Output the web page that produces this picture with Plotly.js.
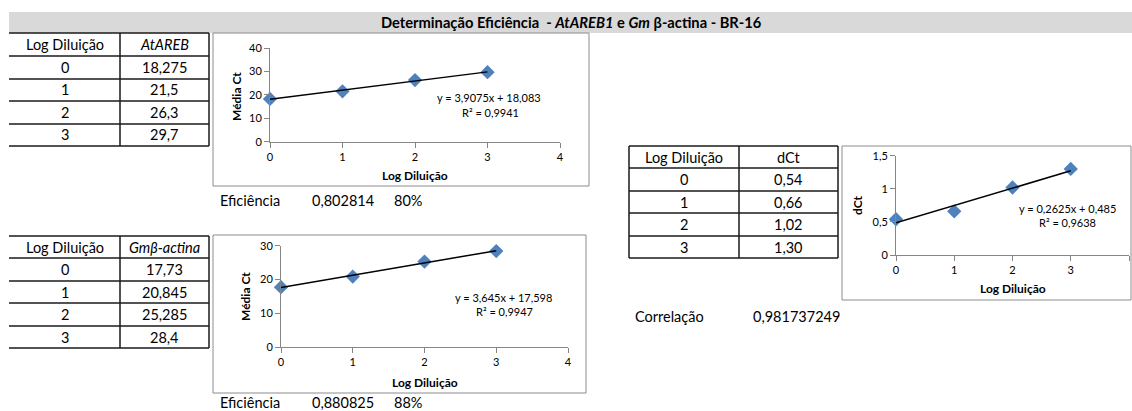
<!DOCTYPE html>
<html><head><meta charset="utf-8">
<script src="https://cdn.plot.ly/plotly-3.0.1.min.js"></script>
<style>html,body{margin:0;padding:0;background:#fff;} #chart{width:1132px;height:411px;}</style>
</head><body><div id="chart"></div>
<script>
// ---- data ----
const logDil = [0, 1, 2, 3];
const atareb = [18.275, 21.5, 26.3, 29.7];
const gmActina = [17.73, 20.845, 25.285, 28.4];
const dCt = [0.54, 0.66, 1.02, 1.30];
const trend1 = [3.9075, 18.083];
const trend2 = [3.645, 17.598];
const trend3 = [0.2625, 0.485];
const r2 = [0.9941, 0.9947, 0.9638];
const eficiencia = [0.802814, 0.880825];
const eficPct = ['80%', '88%'];
const correlacao = 0.981737249;
const headers1 = ['Log Diluição', 'AtAREB'];
const headers2 = ['Log Diluição', 'Gmβ-actina'];
const headers3 = ['Log Diluição', 'dCt'];

// ---- helpers ----
const W = 1132, H = 411;
const px = x => x / W, py = y => 1 - y / H;
const comma = v => String(v).replace('.', ',');
const FONT = 'Lato, "Open Sans", sans-serif';
const shapes = [], annotations = [];

function txt(x, y, text, opt) {
  opt = opt || {};
  annotations.push(Object.assign({
    xref: 'paper', yref: 'paper', x: px(x), y: py(y), text: text, showarrow: false,
    xanchor: 'center', yanchor: 'middle',
    font: {family: FONT, size: 14.5, color: '#000'}
  }, opt));
}
function line(x0, y0, x1, y1, color, w) {
  shapes.push({type: 'line', xref: 'paper', yref: 'paper', x0: px(x0), y0: py(y0), x1: px(x1), y1: py(y1),
    line: {color: color || '#1a1a1a', width: w || 1.5}});
}
function rect(x0, y0, x1, y1, opt) {
  shapes.push(Object.assign({type: 'rect', xref: 'paper', yref: 'paper', x0: px(x0), y0: py(y0), x1: px(x1), y1: py(y1)}, opt));
}
function table(x0, xm, x1, ys, left, headers, italic, values, fmt) {
  ys.forEach(y => line(x0, y, x1, y));
  line(xm, ys[0], xm, ys[ys.length - 1]);
  line(x1, ys[0], x1, ys[ys.length - 1]);
  if (left) line(x0, ys[0], x0, ys[ys.length - 1]);
  const c1 = (x0 + xm) / 2, c2 = (xm + x1) / 2;
  txt(c1, (ys[0] + ys[1]) / 2, headers[0]);
  txt(c2, (ys[0] + ys[1]) / 2, italic ? '<i>' + headers[1] + '</i>' : headers[1]);
  logDil.forEach((d, i) => {
    const yc = (ys[i + 1] + ys[i + 2]) / 2;
    txt(c1, yc, String(d));
    txt(c2, yc, fmt(values[i]));
  });
}

// title band
rect(9, 12, 1132, 33, {fillcolor: '#D9D9D9', line: {width: 0}, layer: 'below'});
txt(571, 22.5, '<b>Determinação Eficiência&nbsp; - <i>AtAREB1</i> e <i>Gm</i> β-actina - BR-16</b>', {font: {family: FONT, size: 14.7, color: '#000'}});

// tables
table(9, 120, 209, [33, 56, 79, 101, 124, 146], false, headers1, true, atareb, comma);
table(9, 120, 209, [236, 258, 281, 303, 326, 348], false, headers2, true, gmActina, comma);
table(629, 739, 838, [146, 168, 191, 213, 236, 258], true, headers3, false, dCt, v => comma(v.toFixed(2)));

// chart boxes
const boxLine = {color: '#8C8C8C', width: 1};
rect(213, 33, 589, 186, {line: boxLine, fillcolor: 'rgba(0,0,0,0)'});
rect(213, 235, 586, 393, {line: boxLine, fillcolor: 'rgba(0,0,0,0)'});
rect(842, 146, 1131, 300, {line: boxLine, fillcolor: 'rgba(0,0,0,0)'});

// axis titles
const tFont = {family: FONT, size: 12, color: '#000'};
txt(236, 97, '<b>Média Ct</b>', {textangle: -90, font: tFont});
txt(415, 175, '<b>Log Diluição</b>', {font: tFont});
txt(245, 297, '<b>Média Ct</b>', {textangle: -90, font: tFont});
txt(425, 382, '<b>Log Diluição</b>', {font: tFont});
txt(858, 205, '<b>dCt</b>', {textangle: -90, font: tFont});
txt(1013, 288, '<b>Log Diluição</b>', {font: tFont});

// equations
const eFont = {family: FONT, size: 11, color: '#000'};
const eq = t => 'y = ' + comma(t[0]) + 'x + ' + comma(t[1]);
txt(489, 98, eq(trend1), {font: eFont});
txt(490, 112, 'R² = ' + comma(r2[0]), {font: eFont});
txt(503, 297, eq(trend2), {font: eFont});
txt(504, 311, 'R² = ' + comma(r2[1]), {font: eFont});
txt(1067, 208, eq(trend3), {font: eFont});
txt(1067, 222, 'R² = ' + comma(r2[2]), {font: eFont});

// eficiência / correlação
[200, 402].forEach((y, i) => {
  txt(218, y, 'Eficiência', {xanchor: 'left'});
  txt(310, y, comma(eficiencia[i]), {xanchor: 'left'});
  txt(392, y, eficPct[i], {xanchor: 'left'});
});
txt(633, 316, 'Correlação', {xanchor: 'left'});
txt(751, 316, comma(correlacao), {xanchor: 'left'});

// ---- traces ----
const mk = {symbol: 'diamond', size: 11, color: '#4F81BD'};
const trendX = [0, 3];
function series(y, t, ax) {
  return [
    {x: logDil, y: y, mode: 'markers', marker: mk, xaxis: 'x' + ax, yaxis: 'y' + ax, cliponaxis: false},
    {x: trendX, y: trendX.map(x => t[0] * x + t[1]), mode: 'lines', line: {color: '#000', width: 1.5},
     xaxis: 'x' + ax, yaxis: 'y' + ax, cliponaxis: false}
  ];
}
const data = [].concat(series(atareb, trend1, ''), series(gmActina, trend2, '2'), series(dCt, trend3, '3'));

const tickFont = {family: FONT, size: 11, color: '#000'};
function xax(x0, x1, yanchor) {
  return {domain: [px(x0), px(x1)], range: [0, 4], dtick: 1, anchor: yanchor, showgrid: false, zeroline: false,
    showline: true, linecolor: '#868686', linewidth: 1, ticks: 'outside', ticklen: 5, tickcolor: '#868686',
    tickfont: tickFont, fixedrange: true};
}
function yax(y0, y1, r, d, xanchor) {
  return {domain: [py(y0), py(y1)], range: r, dtick: d, anchor: xanchor, showgrid: false, zeroline: false,
    showline: true, linecolor: '#868686', linewidth: 1, ticks: 'outside', ticklen: 5, tickcolor: '#868686',
    tickfont: tickFont, fixedrange: true};
}

const layout = {
  width: W, height: H, margin: {l: 0, r: 0, t: 0, b: 0}, paper_bgcolor: '#fff', plot_bgcolor: 'rgba(0,0,0,0)',
  showlegend: false, separators: ',.', hovermode: false,
  xaxis: xax(270, 560, 'y'), yaxis: yax(141.7, 48, [0, 40], 10, 'x'),
  xaxis2: xax(281, 568, 'y2'), yaxis2: yax(347, 245.7, [0, 30], 10, 'x2'),
  xaxis3: xax(896, 1129, 'y3'), yaxis3: yax(255, 155.7, [0, 1.5], 0.5, 'x3'),
  shapes: shapes, annotations: annotations
};
Plotly.newPlot('chart', data, layout, {staticPlot: true, displayModeBar: false});
</script></body></html>
